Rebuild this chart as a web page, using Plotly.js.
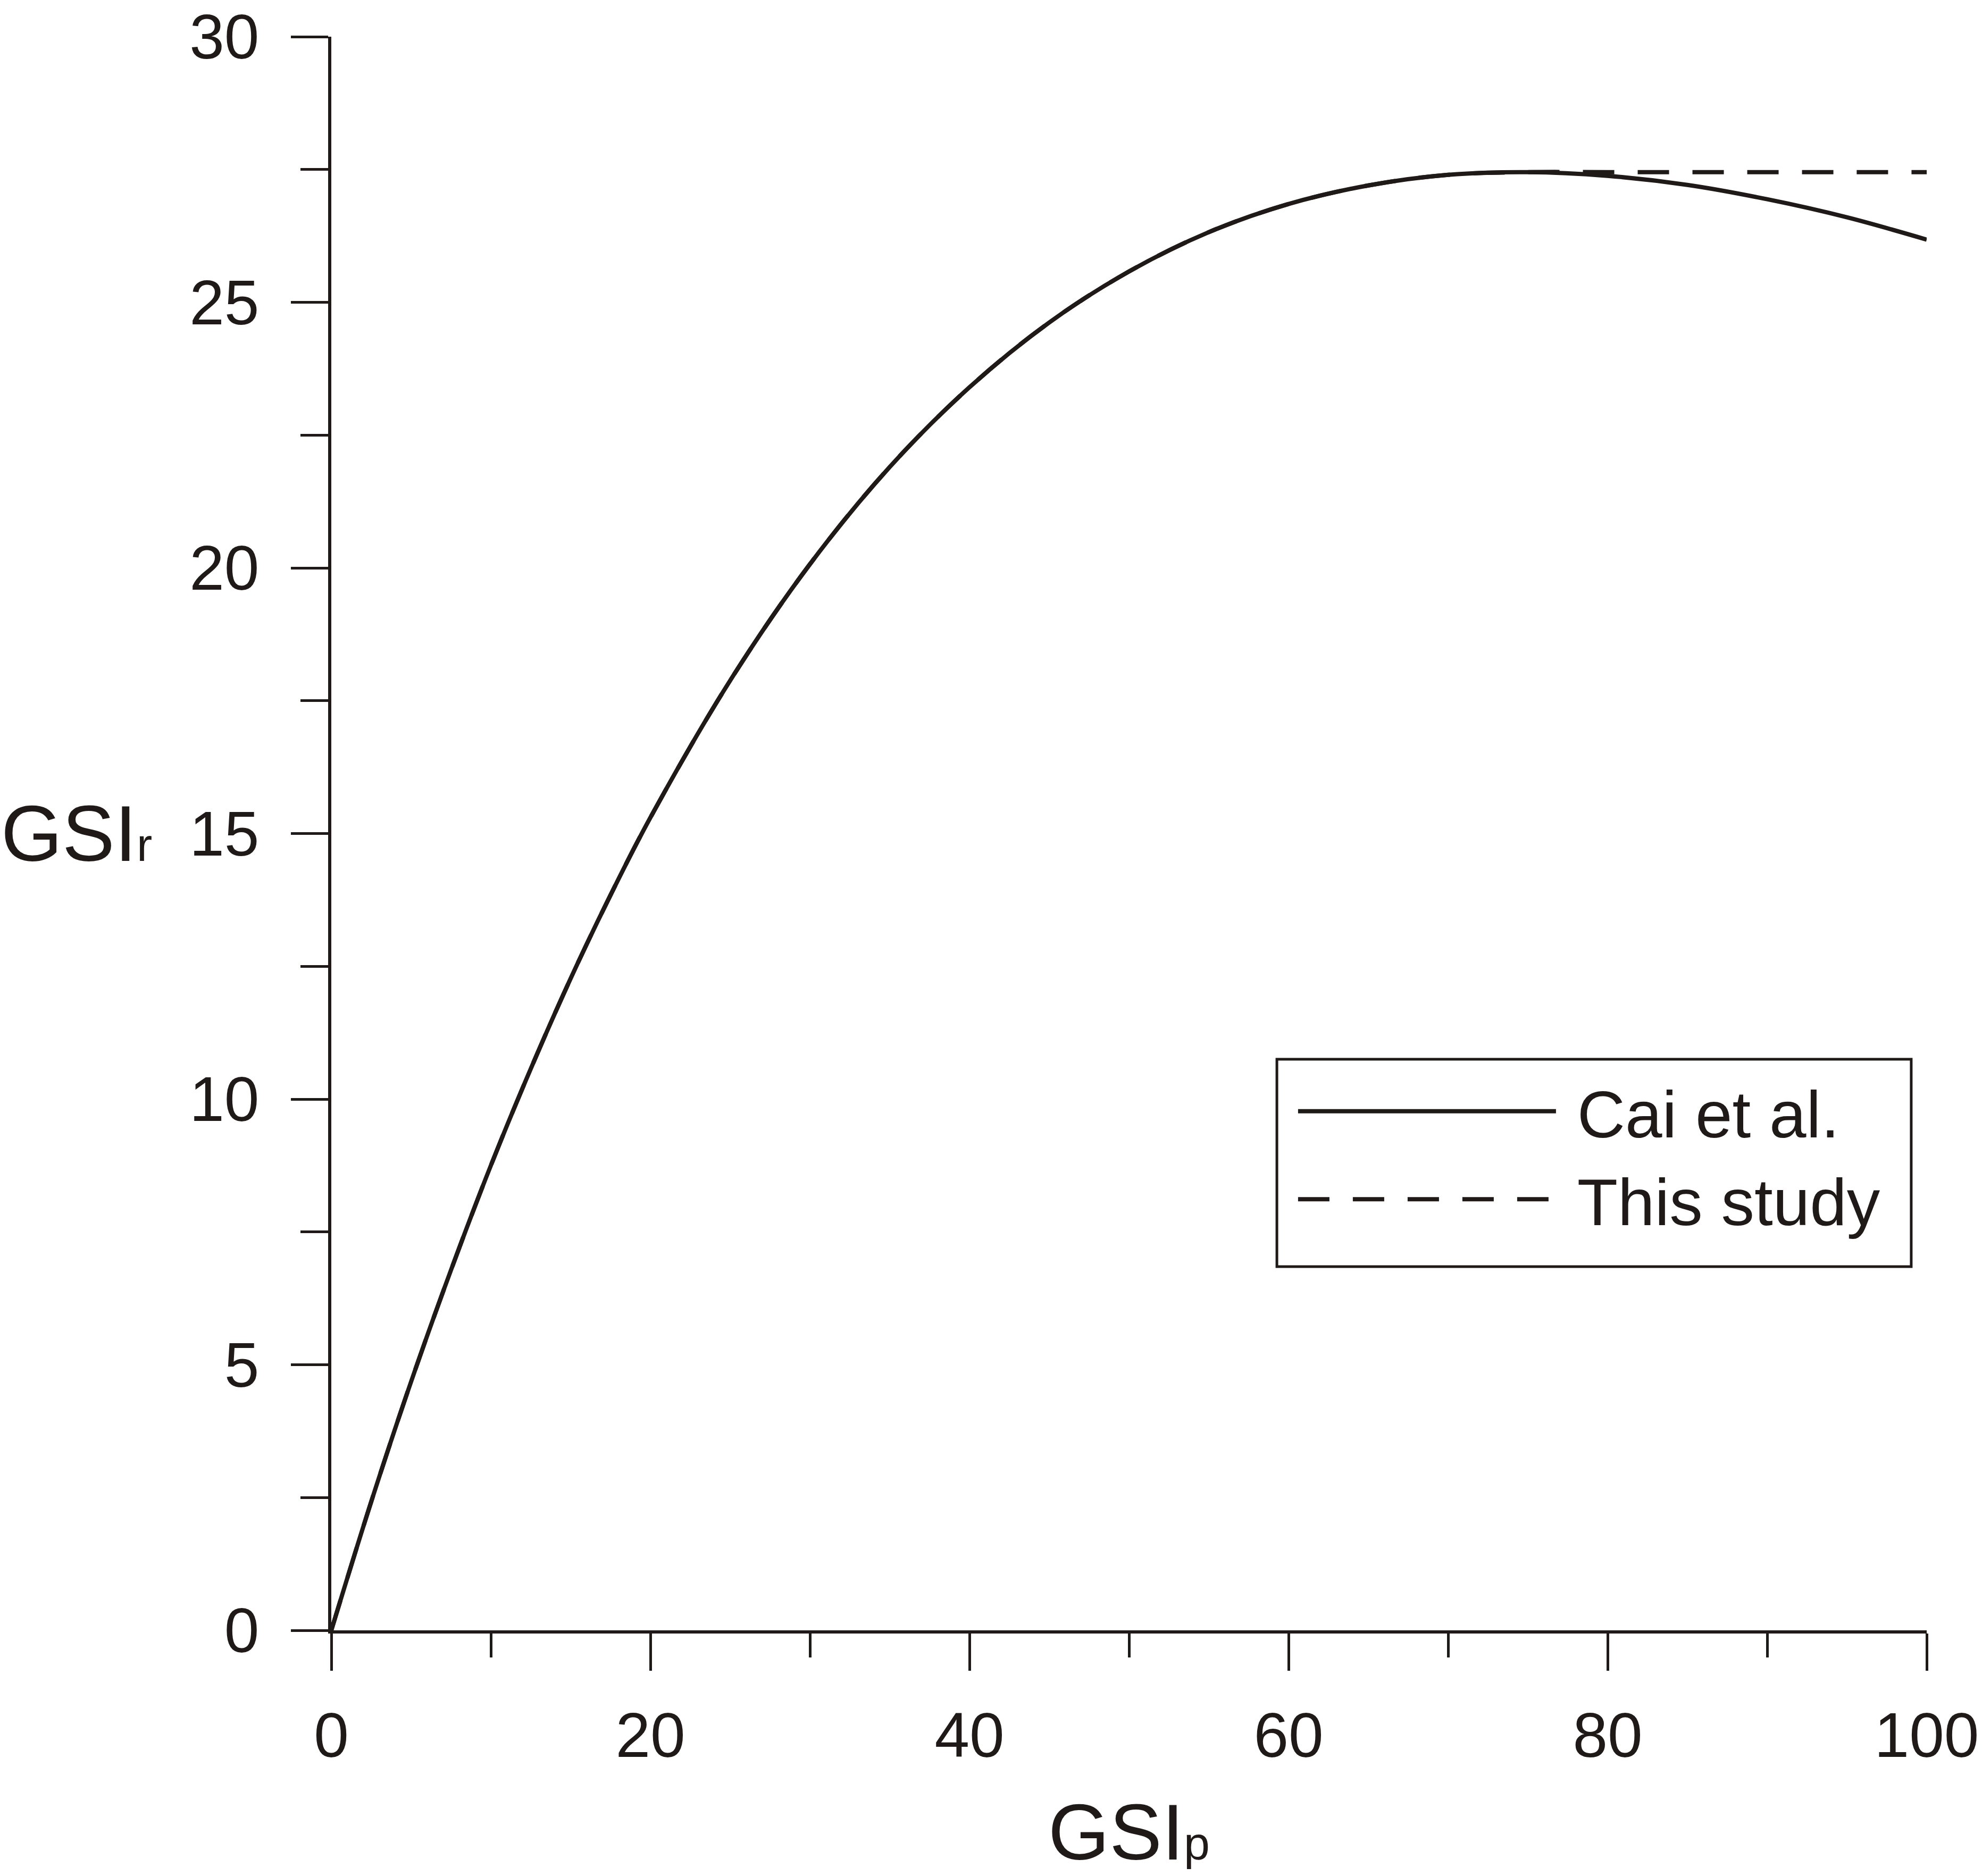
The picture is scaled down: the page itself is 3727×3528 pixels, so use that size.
<!DOCTYPE html>
<html>
<head>
<meta charset="utf-8">
<script src="https://cdn.plot.ly/plotly-3.0.1.min.js"></script>
<style>
  body { margin: 0; background: #fff; }
  #plotDiv { width: 3727px; height: 3528px; }
</style>
</head>
<body>
<div id="plotDiv"></div>
<script>
var gsiP = [0, 2.5, 5, 7.5, 10, 12.5, 15, 17.5, 20, 25, 30, 35, 40, 45, 50, 55, 60, 65, 70, 75, 80, 85, 90, 95, 100];

// Cai et al. (solid)
var caiGsiR = [0, 2.42, 4.68, 6.78, 8.75, 10.57, 12.27, 13.84, 15.30, 17.88, 20.07, 21.90, 23.40, 24.62, 25.58, 26.32, 26.85, 27.20, 27.40, 27.45, 27.38, 27.21, 26.94, 26.60, 26.18];

// This study (dashed): same rise, stays flat after the peak
var studyGsiR = [0, 2.42, 4.68, 6.78, 8.75, 10.57, 12.27, 13.84, 15.30, 17.88, 20.07, 21.90, 23.40, 24.62, 25.58, 26.32, 26.85, 27.20, 27.40, 27.45, 27.45, 27.45, 27.45, 27.45, 27.45];

var seriesNames = ['Cai et al.', 'This study'];

var ink = '#1f1a17';
var fontFam = 'Liberation Sans, Arial, sans-serif';

function plotGsi(){
  var trace1 = {
    x: gsiP,
    y: caiGsiR,
    mode: 'lines',
    type: 'scatter',
    name: '\u00a0' + seriesNames[0],
    line: { color: ink, width: 8, shape: 'spline' }
  };

  var trace2 = {
    x: gsiP,
    y: studyGsiR,
    mode: 'lines',
    type: 'scatter',
    name: '\u00a0' + seriesNames[1],
    line: { color: ink, width: 8, dash: '59px,44px', shape: 'spline' }
  };

  var data = [trace1, trace2];

  var tickStyle = {
    ticks: 'outside', ticklen: 70, tickwidth: 5, tickcolor: ink,
    showline: true, linewidth: 6, linecolor: ink,
    showgrid: false, zeroline: false, fixedrange: true,
    tickfont: { family: fontFam, size: 118, color: ink }
  };

  var layout = {
    width: 3727,
    height: 3528,
    margin: { l: 623, r: 104, t: 69, b: 462 },
    paper_bgcolor: '#ffffff',
    plot_bgcolor: '#ffffff',
    font: { family: fontFam, color: ink },
    showlegend: true,
    legend: {
      x: 0.6043, y: 0.355, xanchor: 'left', yanchor: 'top',
      borderwidth: 0, bgcolor: 'rgba(0,0,0,0)',
      font: { family: fontFam, size: 125, color: ink },
      itemwidth: 485, traceorder: 'normal'
    },
    xaxis: Object.assign({}, tickStyle, {
      range: [0, 100], tick0: 0, dtick: 20,
      ticklabelstandoff: 20,
      minor: { dtick: 10, ticks: 'outside', ticklen: 45, tickwidth: 5, tickcolor: ink },
      title: {
        text: 'GSI<span style="font-size:88px">p</span>',
        font: { family: fontFam, size: 148, color: ink },
        standoff: 68
      }
    }),
    yaxis: Object.assign({}, tickStyle, {
      range: [0, 30], tick0: 0, dtick: 5,
      ticklabelstandoff: 36,
      minor: { dtick: 2.5, ticks: 'outside', ticklen: 52, tickwidth: 5, tickcolor: ink }
    }),
    // frame around the legend
    shapes: [{
      type: 'rect', xref: 'paper', yref: 'paper',
      x0: 0.5927, x1: 0.9903, y0: 0.2282, y1: 0.3584,
      line: { color: ink, width: 5 }, fillcolor: 'rgba(0,0,0,0)'
    }],
    annotations: [{
      xref: 'paper', yref: 'paper', x: -0.2077, y: 0.5,
      xanchor: 'left', yanchor: 'middle', showarrow: false,
      text: 'GSI<span style="font-size:88px">r</span>',
      font: { family: fontFam, size: 148, color: ink }
    }]
  };

  Plotly.newPlot('plotDiv', data, layout, { displayModeBar: false, staticPlot: true });
}

plotGsi();
</script>
</body>
</html>
